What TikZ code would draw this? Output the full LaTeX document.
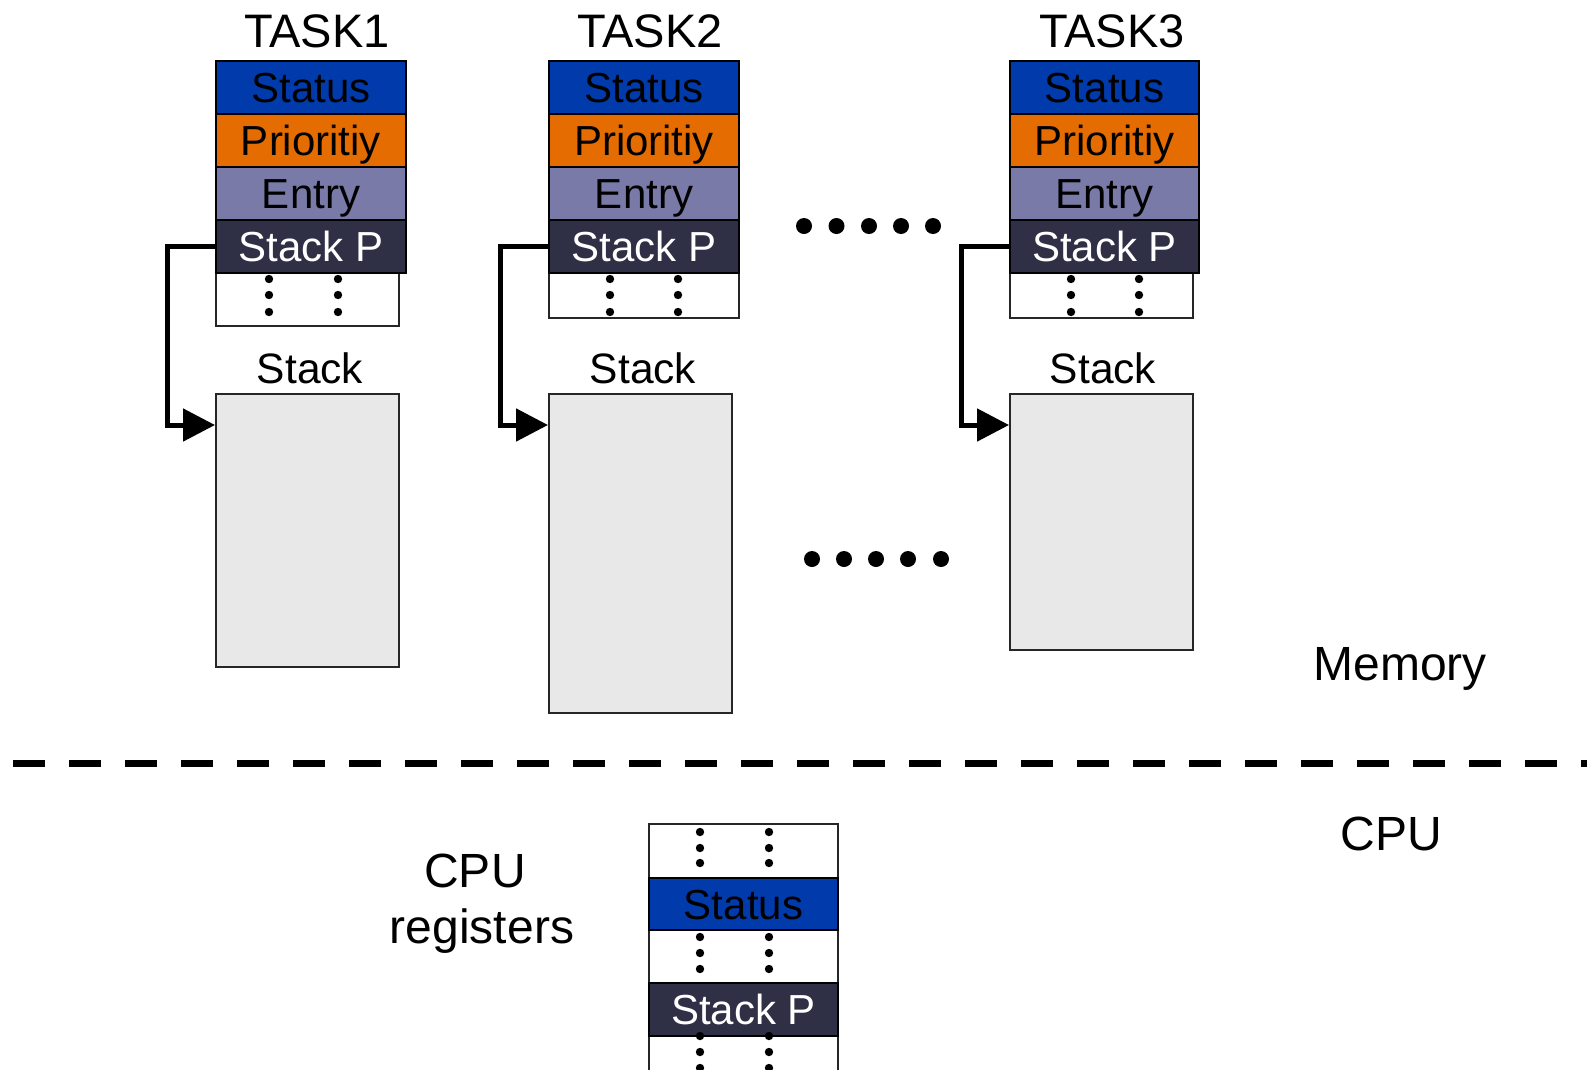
\documentclass[tikz,border=0pt]{standalone}
\usepackage{fontspec}
\setmainfont{Liberation Sans}
\usetikzlibrary{arrows.meta}
\definecolor{statusblue}{RGB}{0,58,171}
\definecolor{prioorange}{RGB}{228,108,0}
\definecolor{entrypurple}{RGB}{122,122,168}
\definecolor{stackpnavy}{RGB}{47,47,70}
\definecolor{stackgray}{RGB}{232,232,232}
\begin{document}
\begin{tikzpicture}[x=1pt,y=-1pt,
  cell/.style={draw=black, line width=2pt, inner sep=0pt, minimum height=53pt,
    text height=30pt, text depth=0pt, font=\fontsize{42}{50}\selectfont,
    anchor=north west},
  statuscell/.style={cell, fill=statusblue, text=black},
  priocell/.style={cell, fill=prioorange, text=black},
  entrycell/.style={cell, fill=entrypurple, text=black},
  spcell/.style={cell, fill=stackpnavy, text=white},
  dotcell/.style={draw=black!85, line width=2pt, fill=white, inner sep=0pt, anchor=north west},
  stackbox/.style={draw=black!85, line width=2pt, fill=stackgray, inner sep=0pt, anchor=north west},
  title/.style={font=\fontsize{47}{56}\selectfont, anchor=base, inner sep=0pt},
  lbl/.style={font=\fontsize{42.5}{51}\selectfont, anchor=base, inner sep=0pt},
  biglbl/.style={font=\fontsize{48}{57}\selectfont, anchor=base, inner sep=0pt},
  ptr/.style={line width=5pt, line join=miter, -{Triangle[length=32pt,width=32pt]}},
  vdot/.style={fill=black},
  sep/.style={line width=7pt, dash pattern=on 32pt off 24pt}
]
\useasboundingbox (0,0) rectangle (1587,1069);

% task control blocks, each with its own stack
\foreach \id/\x/\w/\dw/\dh/\sb/\tx/\lx/\da/\db/\name in {
  1/215/190/183/53/666/317/310/54/123/TASK1,
  2/548/190/190/45/712/650/643/62/130/TASK2,
  3/1009/189/183/45/649/1112/1103/62/130/TASK3}{
  \node[title] (title\id) at (\tx,47) {\name};
  \node[dotcell, minimum width=\dw pt, minimum height=\dh pt] (t\id dots) at (\x,272) {};
  \foreach \dy in {279,295,312}{
    \fill[vdot] (\x+\da,\dy) circle (4.2);
    \fill[vdot] (\x+\db,\dy) circle (4.2);
  }
  \node[statuscell, minimum width=\w pt] (t\id st) at (\x,60) {Status};
  \node[priocell, minimum width=\w pt] (t\id pr) at (\x,113) {Prioritiy};
  \node[entrycell, minimum width=\w pt] (t\id en) at (\x,166) {Entry};
  \node[spcell, minimum width=\w pt] (t\id sp) at (\x,219) {Stack P};
  \node[lbl] (t\id lbl) at (\lx,383) {Stack};
  \node[stackbox, minimum width=183pt, minimum height={(\sb-393)*1pt}] (t\id stk) at (\x,393) {};
  \draw[ptr] (t\id sp.west) -- ++(-48,0) |- ([yshift=-32pt]t\id stk.north west);
}

% more tasks in between
\foreach \dx in {804,836.5,869,901,933}{ \fill (\dx,226) circle (8); }
\foreach \dx in {812,844,876,908,941}{ \fill (\dx,559) circle (8); }

% memory / cpu boundary
\coordinate (sepL) at (13,763);
\coordinate (sepR) at (1600,763);
\draw[sep] (sepL) -- (sepR);
\node[biglbl] (mem) at (1400,680) {Memory};
\node[biglbl] (cpu) at (1391,850) {CPU};

% register file
\node[biglbl] (regs1) at (475,887) {CPU};
\node[biglbl] (regs2) at (482,943) {registers};
\node[dotcell, minimum width=189pt, minimum height=54pt] (r1) at (648,823) {};
\node[dotcell, minimum width=189pt, minimum height=53pt] (r3) at (648,929) {};
\node[dotcell, minimum width=189pt, minimum height=60pt] (r5) at (648,1035) {};
\node[statuscell, minimum width=189pt, minimum height=52pt] (rst) at (648,877) {Status};
\node[spcell, minimum width=189pt] (rsp) at (648,982) {Stack P};
\foreach \dy in {832,848,863,937,953,969,1036,1052,1068}{
  \fill[vdot] (700,\dy) circle (4.2);
  \fill[vdot] (769,\dy) circle (4.2);
}
\end{tikzpicture}
\end{document}
